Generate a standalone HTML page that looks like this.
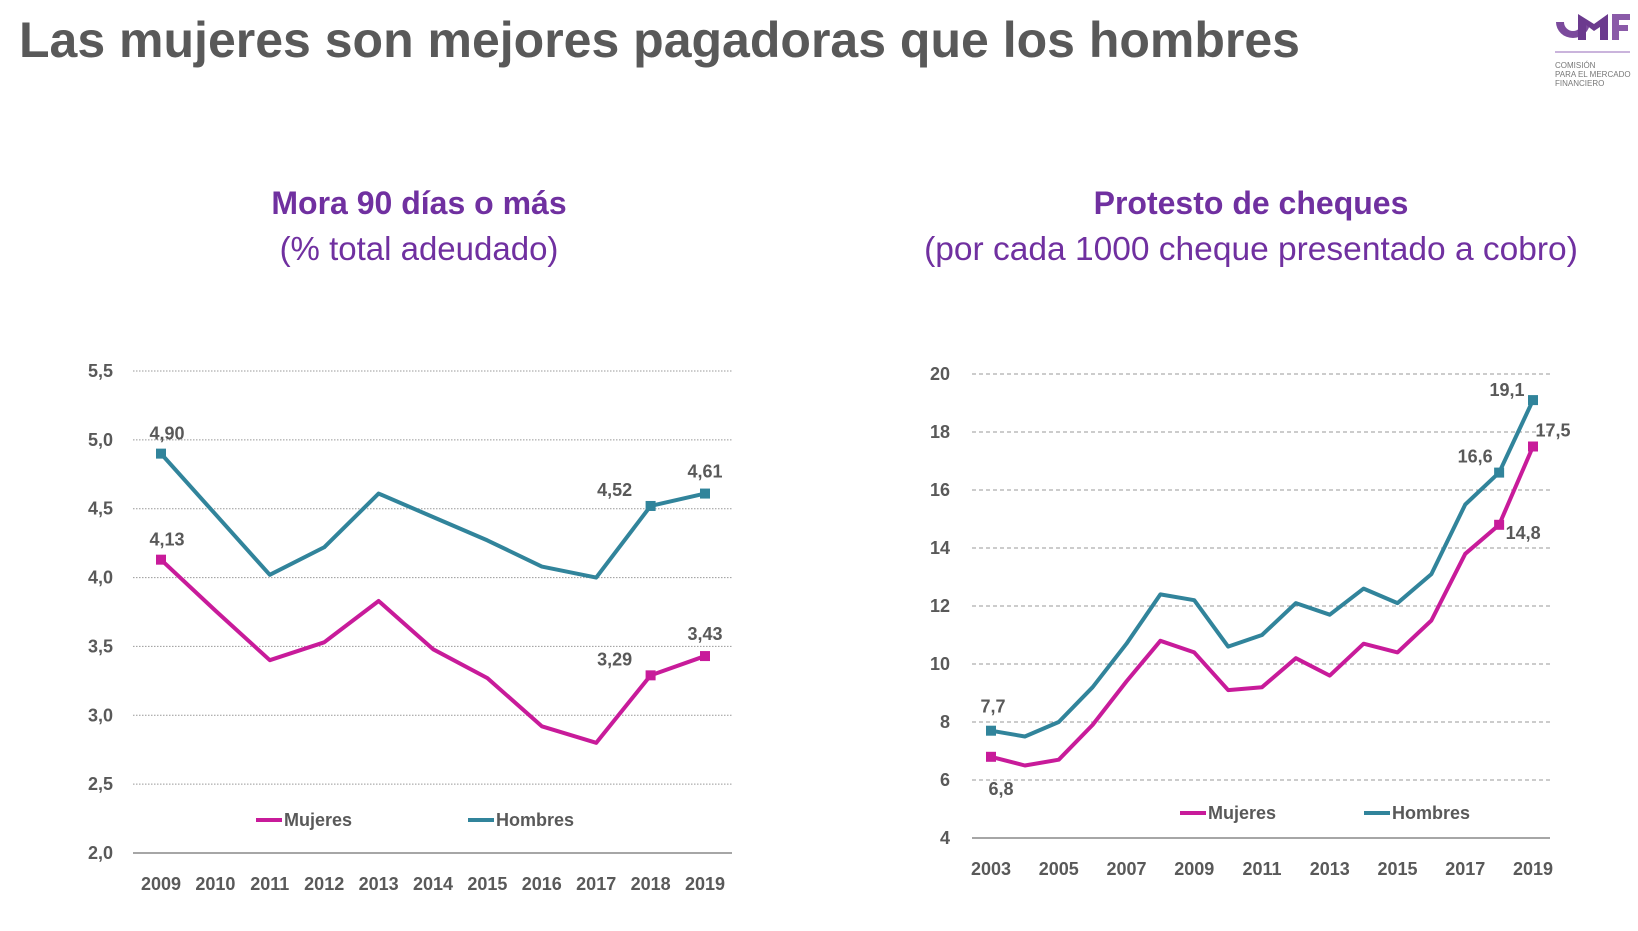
<!DOCTYPE html>
<html><head><meta charset="utf-8"><style>
body{margin:0;width:1638px;height:926px;background:#fff;overflow:hidden;font-family:"Liberation Sans",sans-serif}
</style></head><body>
<svg id="s" width="1638" height="926" xmlns="http://www.w3.org/2000/svg" font-family="Liberation Sans, sans-serif">
<text x="19" y="57" font-size="50" font-weight="bold" fill="#595959">Las mujeres son mejores pagadoras que los hombres</text>
<g>
<path d="M1556 22 A17 16 0 0 0 1590 22 L1582 22 A9 9 0 0 1 1564 22 Z" fill="#7b4a9c"/>
<path d="M1578 14 L1594 24 L1608 14 L1608 40 L1600 40 L1600 27 L1594 31 L1586 25 L1586 40 L1578 40 Z" fill="#6b3a8e"/>
<path d="M1612 14 L1630 14 L1630 20 L1619 20 L1619 25 L1628 25 L1628 31 L1619 31 L1619 40 L1612 40 Z" fill="#8a5aa8"/>
<line x1="1555" y1="52" x2="1630" y2="52" stroke="#b89cd0" stroke-width="1.5"/>
<text x="1555" y="68" font-size="8" fill="#777">COMISIÓN</text>
<text x="1555" y="77" font-size="8" fill="#777">PARA EL MERCADO</text>
<text x="1555" y="86" font-size="8" fill="#777">FINANCIERO</text>
</g>
<text x="419" y="214" font-size="32" font-weight="bold" fill="#7030a0" text-anchor="middle">Mora 90 días o más</text>
<text x="419" y="260" font-size="33" fill="#7030a0" text-anchor="middle">(% total adeudado)</text>
<text x="1251" y="214" font-size="32" font-weight="bold" fill="#7030a0" text-anchor="middle">Protesto de cheques</text>
<text x="1251" y="260" font-size="33.5" fill="#7030a0" text-anchor="middle">(por cada 1000 cheque presentado a cobro)</text>
<g id="L"></g>
<g id="R"></g>
</svg>
<script>
const moraYears=[2009,2010,2011,2012,2013,2014,2015,2016,2017,2018,2019];
const moraMujeres=[4.13,3.76,3.40,3.53,3.83,3.48,3.27,2.92,2.80,3.29,3.43];
const moraHombres=[4.90,4.46,4.02,4.22,4.61,4.44,4.27,4.08,4.00,4.52,4.61];
const moraTicks=[2.0,2.5,3.0,3.5,4.0,4.5,5.0,5.5];
const protYears=[2003,2004,2005,2006,2007,2008,2009,2010,2011,2012,2013,2014,2015,2016,2017,2018,2019];
const protMujeres=[6.8,6.5,6.7,7.9,9.4,10.8,10.4,9.1,9.2,10.2,9.6,10.7,10.4,11.5,13.8,14.8,17.5];
const protHombres=[7.7,7.5,8.0,9.2,10.7,12.4,12.2,10.6,11.0,12.1,11.7,12.6,12.1,13.1,15.5,16.6,19.1];
const protTicks=[4,6,8,10,12,14,16,18,20];
const NS='http://www.w3.org/2000/svg';
const PINK='#c81b9a',TEAL='#31849b',GRAY='#595959';
function mk(p,t,a,txt){const e=document.createElementNS(NS,t);for(const k in a)e.setAttribute(k,a[k]);if(txt!==undefined)e.textContent=txt;p.appendChild(e);return e;}
function chart(g,cfg){
  const xs=i=>cfg.x0+(cfg.x1-cfg.x0)*i/(cfg.years.length-1);
  const ys=v=>cfg.yb+(cfg.yt-cfg.yb)*(v-cfg.ticks[0])/(cfg.ticks[cfg.ticks.length-1]-cfg.ticks[0]);
  cfg.ticks.forEach((t,i)=>{
    const l=mk(g,'line',{x1:cfg.gx0,x2:cfg.gx1,y1:ys(t),y2:ys(t),stroke:i==0?'#888':'#999','stroke-width':i==0?1.5:1,'stroke-dasharray':i==0?'none':cfg.dash});
    
    
    const tx=mk(g,'text',{x:cfg.lx,y:ys(t)+6,'font-size':18,'font-weight':'bold',fill:GRAY,'text-anchor':'end'},cfg.fmt(t));
    
    
  });
  cfg.years.forEach((y,i)=>{
    if(i%cfg.every)return;
    const tx=mk(g,'text',{x:xs(i),y:cfg.yb+37,'font-size':18,'font-weight':'bold',fill:GRAY,'text-anchor':'middle'},y);
    
    
  });
  [[cfg.m,PINK,'mujeres'],[cfg.h,TEAL,'hombres']].forEach(([d,c,n])=>{
    const p=mk(g,'polyline',{points:d.map((v,i)=>xs(i)+','+ys(v)).join(' '),fill:'none',stroke:c,'stroke-width':4,'stroke-linejoin':'round'});
    
    
    cfg.marks.forEach(i=>{
      const r=mk(g,'rect',{x:xs(i)-5,y:ys(d[i])-5,width:10,height:10,fill:c});
      
      
    });
  });
  cfg.labels.forEach(([s,i,dx,dy])=>{
    const d=s=='m'?cfg.m:cfg.h;
    const t=mk(g,'text',{x:xs(i)+dx,y:ys(d[i])+dy,'font-size':18,'font-weight':'bold',fill:GRAY,'text-anchor':'middle'},cfg.vfmt(d[i]));
    
    
  });
  cfg.legend.forEach(([x,c,n])=>{
    const l=mk(g,'line',{x1:x,x2:x+26,y1:cfg.legY,y2:cfg.legY,stroke:c,'stroke-width':4});
    
    
    const t=mk(g,'text',{x:x+28,y:cfg.legY+6,'font-size':18,'font-weight':'bold',fill:GRAY},n);
    
    
  });
}
chart(document.getElementById('L'),{years:moraYears,m:moraMujeres,h:moraHombres,ticks:moraTicks,
 x0:161,x1:705,gx0:133,gx1:732,yt:371,yb:853,lx:113,dash:'1.5 1.5',every:1,
 fmt:t=>t.toFixed(1).replace('.',','),vfmt:v=>v.toFixed(2).replace('.',','),marks:[0,9,10],
 labels:[['h',0,6,-14],['m',0,6,-14],['h',9,-36,-10],['h',10,0,-16],['m',9,-36,-10],['m',10,0,-16]],
 legY:820,legend:[[256,PINK,'Mujeres'],[468,TEAL,'Hombres']]});
chart(document.getElementById('R'),{years:protYears,m:protMujeres,h:protHombres,ticks:protTicks,
 x0:991,x1:1533,gx0:972,gx1:1550,yt:374,yb:838,lx:950,dash:'4 3',every:2,
 fmt:t=>String(t),vfmt:v=>v.toFixed(1).replace('.',','),marks:[0,15,16],
 labels:[['h',0,2,-18],['m',0,10,38],['h',15,-24,-10],['h',16,-26,-4],['m',15,24,14],['m',16,20,-10]],
 legY:813,legend:[[1180,PINK,'Mujeres'],[1364,TEAL,'Hombres']]});
</script>
</body></html>
